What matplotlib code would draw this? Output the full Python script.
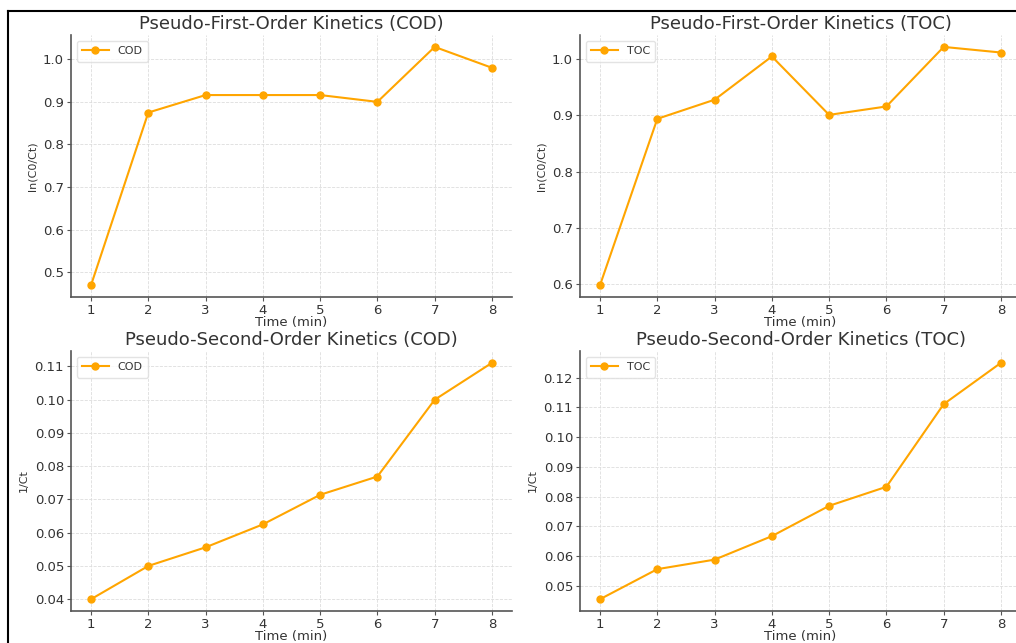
import matplotlib
matplotlib.use("Agg")
import matplotlib.pyplot as plt
from matplotlib.lines import Line2D

# Data
time = [1, 2, 3, 4, 5, 6, 7, 8]
first_cod = [0.470, 0.875, 0.916, 0.916, 0.916, 0.900, 1.029, 0.980]
first_toc = [0.598, 0.894, 0.928, 1.005, 0.901, 0.916, 1.022, 1.012]
second_cod = [0.0400, 0.0500, 0.0556, 0.0625, 0.0714, 0.0769, 0.1000, 0.1111]
second_toc = [0.0455, 0.0556, 0.0588, 0.0667, 0.0769, 0.0833, 0.1111, 0.1250]

W, H = 1016, 643
fig = plt.figure(figsize=(W / 100, H / 100), dpi=100)

color = "#FFA500"
spine_col = "#555555"
text_col = "#333333"


def px_axes(left, top, right, bottom):
    return fig.add_axes([left / W, 1 - bottom / H, (right - left) / W, (bottom - top) / H])


panels = [
    ((71, 35, 512, 297), first_cod, "COD", "Pseudo-First-Order Kinetics (COD)", "ln(C0/Ct)"),
    ((580, 35, 1021, 297), first_toc, "TOC", "Pseudo-First-Order Kinetics (TOC)", "ln(C0/Ct)"),
    ((71, 351, 512, 611), second_cod, "COD", "Pseudo-Second-Order Kinetics (COD)", "1/Ct"),
    ((580, 351, 1021, 611), second_toc, "TOC", "Pseudo-Second-Order Kinetics (TOC)", "1/Ct"),
]

for box, values, label, title, ylabel in panels:
    ax = px_axes(*box)
    ax.plot(time, values, marker="o", color=color, linewidth=1.5, markersize=5, label=label)
    ax.set_title(title, fontsize=13, color=text_col, pad=4)
    ax.set_xlabel("Time (min)", fontsize=9.5, color=text_col, labelpad=-1)
    ax.set_ylabel(ylabel, fontsize=8, color=text_col)
    ax.set_xticks(time)
    ax.grid(True, linestyle="--", linewidth=0.6, color="#dddddd")
    ax.set_axisbelow(True)
    for side in ["top", "right"]:
        ax.spines[side].set_visible(False)
    for side in ["left", "bottom"]:
        ax.spines[side].set_color(spine_col)
        ax.spines[side].set_linewidth(1.2)
    ax.tick_params(colors=spine_col, labelcolor=text_col, labelsize=9.5, length=3, pad=2)
    leg = ax.legend(loc="upper left", fontsize=8, frameon=True, borderpad=0.5,
                    handlelength=2.4)
    leg.get_frame().set_edgecolor("#dddddd")
    for t in leg.get_texts():
        t.set_color(text_col)

# black frame on top and left edges
fig.add_artist(Line2D([8 / W, 1], [1 - 11 / H, 1 - 11 / H], transform=fig.transFigure, color="black", linewidth=1.5))
fig.add_artist(Line2D([8 / W, 8 / W], [0, 1 - 11 / H], transform=fig.transFigure, color="black", linewidth=1.5))

fig.savefig("out.png", dpi=100)
